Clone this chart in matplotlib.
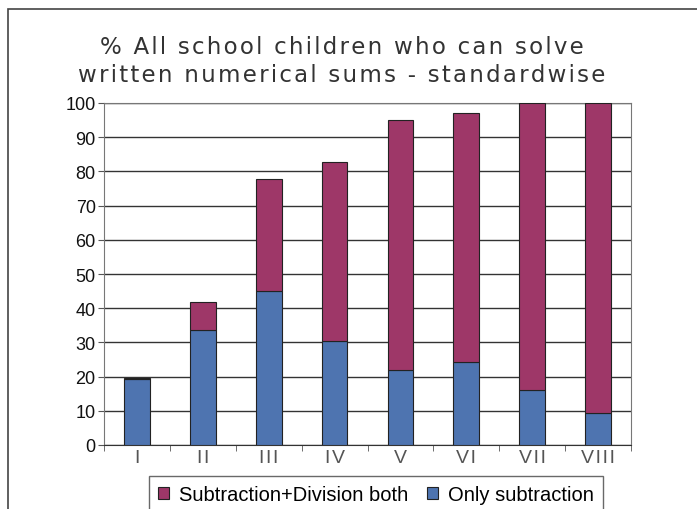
import matplotlib
matplotlib.use("Agg")
import matplotlib.pyplot as plt
import numpy as np
from matplotlib.patches import Rectangle

standards = ["I", "II", "III", "IV", "V", "VI", "VII", "VIII"]
only_subtraction = [19.3, 33.5, 45.0, 30.3, 22.0, 24.3, 16.2, 9.3]
total = [19.7, 41.7, 77.9, 82.8, 95.0, 97.1, 100.0, 100.0]
sub_div_both = [t - s for t, s in zip(total, only_subtraction)]

title_lines = ["% All school children who can solve",
               "written numerical sums - standardwise"]

blue = "#4e74b0"
magenta = "#9e3768"

plt.rcParams["font.family"] = ["Liberation Sans", "DejaVu Sans"]

fig = plt.figure(figsize=(6.97, 5.10), dpi=100)
ax = fig.add_axes([104 / 697, 1 - 446 / 510, 527 / 697, 342 / 510])

x = np.arange(len(standards))
ax.bar(x, only_subtraction, width=0.39, color=blue, edgecolor="#222222",
       linewidth=0.8, label="Only subtraction", zorder=3)
ax.bar(x, sub_div_both, width=0.39, bottom=only_subtraction, color=magenta,
       edgecolor="#222222", linewidth=0.8, label="Subtraction+Division both",
       zorder=3)

ax.set_xlim(-0.5, len(standards) - 0.5)
ax.set_ylim(0, 100)
ax.set_yticks(range(0, 101, 10))
ax.yaxis.grid(True, color="#333333", linewidth=1.0, zorder=0)
ax.set_xticks(x)
ax.set_xticklabels(["\u200a".join(s) for s in standards])
ax.set_xticks(np.arange(-0.5, len(standards), 1), minor=True)
ax.tick_params(axis="x", which="major", length=0, labelsize=14, pad=3,
               labelcolor="#555555")
ax.tick_params(axis="x", which="minor", length=4, color="#555555")
ax.tick_params(axis="y", length=4, labelsize=13, labelcolor="#111111",
               color="#555555", pad=2)
for side in ["top", "right", "left", "bottom"]:
    ax.spines[side].set_color("#777777")
ax.spines["bottom"].set_color("#333333")

# title is letter-spaced in the original
for line, ypix in zip(title_lines, [47, 75]):
    spaced = "\u200a".join(line)
    fig.text(0.49, 1 - ypix / 510, spaced, ha="center", va="center",
             fontsize=16.5, color="#333333", family="DejaVu Sans")

# outer frame of the chart
fig.patches.append(Rectangle((8 / 697, -0.1), 1.0, 1 - 10 / 510 + 0.1,
                             transform=fig.transFigure, fill=False,
                             edgecolor="#444444", linewidth=1.2))

handles, labels = ax.get_legend_handles_labels()
leg = fig.legend(handles[::-1], labels[::-1], ncol=2, loc="upper left",
                 bbox_to_anchor=(149 / 697, 1 - 477 / 510), fontsize=14.5,
                 frameon=True, fancybox=False, edgecolor="#444444",
                 handlelength=0.55, handleheight=0.55, handletextpad=0.5,
                 columnspacing=0.9, borderpad=0.45, borderaxespad=0)
leg.get_frame().set_linewidth(1.0)

fig.savefig("out.png", dpi=100)
